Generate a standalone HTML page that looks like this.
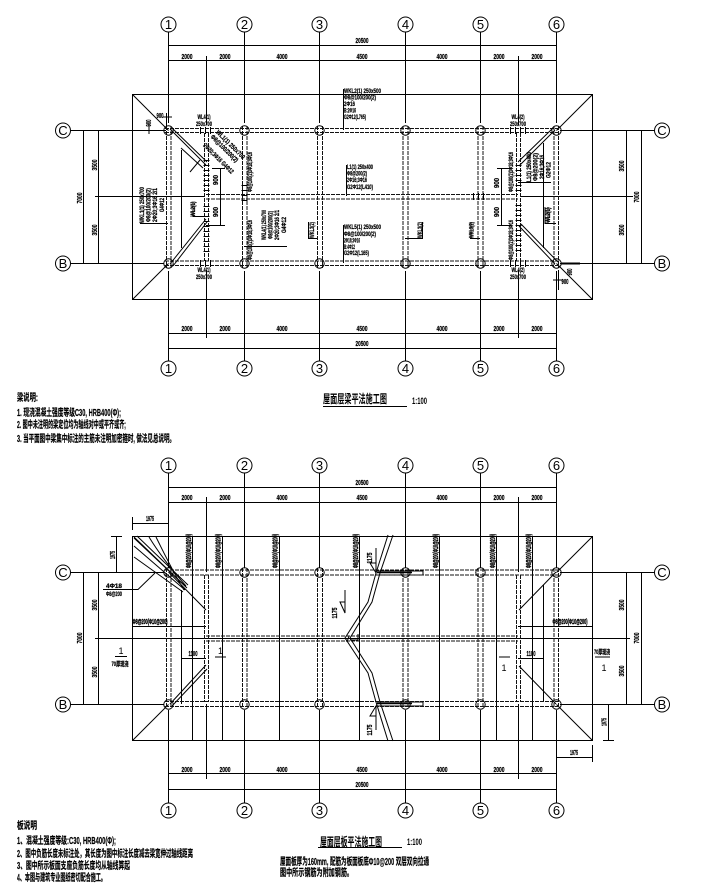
<!DOCTYPE html>
<html lang="zh">
<head>
<meta charset="utf-8">
<title>屋面层梁板平法施工图</title>
<style>
html,body{margin:0;padding:0;background:#fff;width:705px;height:889px;overflow:hidden}
svg{display:block}
.l{stroke:#000;stroke-width:1;fill:none}
.b{stroke:#111;stroke-width:1;fill:none;stroke-dasharray:4 1}
.h{stroke:#000;stroke-width:6;fill:none;stroke-dasharray:1 4}
.c{stroke:#000;stroke-width:1;fill:#fff}
.o{stroke:#000;stroke-width:1;fill:none}
text{font-family:"Liberation Sans","Noto Sans CJK SC",sans-serif;fill:#000}
.g{font-size:13px;text-anchor:middle}
.d{font-size:7px;font-weight:bold;text-anchor:middle;stroke:#000;stroke-width:.25}
.t{font-size:6.5px;font-weight:bold;stroke:#000;stroke-width:.25}
.r{font-size:7.5px;font-weight:bold;stroke:#000;stroke-width:.45;text-anchor:middle}
.n{font-size:10px;font-weight:bold;stroke:#000;stroke-width:.2}
</style>
</head>
<body>
<svg width="705" height="889" viewBox="0 0 705 889" xmlns="http://www.w3.org/2000/svg">

<!-- ================= UPPER PLAN ================= -->
<path class="l" d="M168.5 32V123M244.5 32V123M319.5 32V123M405.5 32V123M480.5 32V123M556.5 32V123
M168.5 271V361M244.5 271V361M319.5 271V361M405.5 271V361M480.5 271V361M556.5 271V361
M206.5 56V125M206.5 270V338M518.5 56V125M518.5 270V338
M168 45.5H557M168 60.5H557M168 333.5H557M168 348.5H557
M132.5 94.5H592.5V299.5H132.5Z
M70 130.5H164M70 263.5H164M95 196.5H205M560 130.5H655M560 263.5H655M520 196.5H633
M83.5 130V264M98.5 130V264M626.5 130V264M641.5 130V264
M132.5 94.5L168.5 130.5M132.5 299.5L168.5 263.5M592.5 94.5L556.5 130.5M592.5 299.5L556.5 263.5
M170 129L206 165M173 129L207 162M170 264L206 219M173 266L207 222M555 130L519 166M552 129L518 162M555 264L519 226M558 262L521 224
M181.5 150V248M543.5 143V248
M220.5 168V225M212 168.5H225M206 225.5H225M501.5 168V225M497 168.5H511M497 225.5H511
M343.5 89V130M346.5 165V196M343.5 225V263
M140 223.5H168M244 246.5H287M193 202V216.5H204M308.5 222V238.5H318M405 238.5H422.5V222M470 238.5H480M471 222V238M518 182.5H551M545 207V223.5H556M548 207V223
M166.5 113V130M150 130.5H166M149 124V134M163 117H172
M561 263.5H578M558.5 270V290M553 280H563"/>
<path d="M561 263.5H580" stroke="#000" stroke-width="2"/>
<path class="l" d="M203 168L181 148M200 160L190 172"/>
<!-- beams upper -->
<path class="b" d="M165 128.5H560M165 132.5H560M165 261H560M165 265.5H560M206 194.5H518M206 199H518
M166.5 126V268M171 126V268M204.5 133V261M208.5 133V261M242.5 126V268M247 126V268M317.5 126V268M322.5 126V268M403 126V268M408 126V268M478 126V268M483 126V268M516.5 133V261M520.5 133V261M554 126V268M558.5 126V268"/>
<path class="h" d="M206.5 160V192M206.5 206V252M518.5 165V192M518.5 205V252M244.5 185V202"/>
<path class="h" style="stroke-width:7" d="M200 130.5H214M200 263.5H214M510 130.5H526M510 263.5H526M473 196.5H488"/>
<!-- columns -->
<g class="o">
<circle cx="168.5" cy="130.5" r="4.7"/><circle cx="244.5" cy="130.5" r="4.7"/><circle cx="319.5" cy="130.5" r="4.7"/><circle cx="405.5" cy="130.5" r="4.7"/><circle cx="480.5" cy="130.5" r="4.7"/><circle cx="556.5" cy="130.5" r="4.7"/>
<circle cx="168.5" cy="263.5" r="4.7"/><circle cx="244.5" cy="263.5" r="4.7"/><circle cx="319.5" cy="263.5" r="4.7"/><circle cx="405.5" cy="263.5" r="4.7"/><circle cx="480.5" cy="263.5" r="4.7"/><circle cx="556.5" cy="263.5" r="4.7"/>
</g>
<!-- bubbles -->
<g class="c">
<circle cx="168.5" cy="24.5" r="7.5"/><circle cx="244.5" cy="24.5" r="7.5"/><circle cx="319.5" cy="24.5" r="7.5"/><circle cx="405.5" cy="24.5" r="7.5"/><circle cx="480.5" cy="24.5" r="7.5"/><circle cx="556.5" cy="24.5" r="7.5"/>
<circle cx="168.5" cy="368.5" r="7.5"/><circle cx="244.5" cy="368.5" r="7.5"/><circle cx="319.5" cy="368.5" r="7.5"/><circle cx="405.5" cy="368.5" r="7.5"/><circle cx="480.5" cy="368.5" r="7.5"/><circle cx="556.5" cy="368.5" r="7.5"/>
<circle cx="63" cy="130.5" r="7.5"/><circle cx="63" cy="263.5" r="7.5"/><circle cx="662" cy="130.5" r="7.5"/><circle cx="662" cy="263.5" r="7.5"/>
</g>
<g class="g">
<text x="168.5" y="29">1</text><text x="244.5" y="29">2</text><text x="319.5" y="29">3</text><text x="405.5" y="29">4</text><text x="480.5" y="29">5</text><text x="556.5" y="29">6</text>
<text x="168.5" y="373">1</text><text x="244.5" y="373">2</text><text x="319.5" y="373">3</text><text x="405.5" y="373">4</text><text x="480.5" y="373">5</text><text x="556.5" y="373">6</text>
<text x="63" y="135">C</text><text x="63" y="268">B</text><text x="662" y="135">C</text><text x="662" y="268">B</text>
</g>
<!-- dims upper -->
<g class="d">
<text x="362" y="43" textLength="13" lengthAdjust="spacingAndGlyphs">20500</text>
<text x="187" y="59" textLength="11" lengthAdjust="spacingAndGlyphs">2000</text><text x="225" y="59" textLength="11" lengthAdjust="spacingAndGlyphs">2000</text><text x="282" y="59" textLength="11" lengthAdjust="spacingAndGlyphs">4000</text><text x="362" y="59" textLength="11" lengthAdjust="spacingAndGlyphs">4500</text><text x="442" y="59" textLength="11" lengthAdjust="spacingAndGlyphs">4000</text><text x="499" y="59" textLength="11" lengthAdjust="spacingAndGlyphs">2000</text><text x="537" y="59" textLength="11" lengthAdjust="spacingAndGlyphs">2000</text>
<text x="187" y="331" textLength="11" lengthAdjust="spacingAndGlyphs">2000</text><text x="225" y="331" textLength="11" lengthAdjust="spacingAndGlyphs">2000</text><text x="282" y="331" textLength="11" lengthAdjust="spacingAndGlyphs">4000</text><text x="362" y="331" textLength="11" lengthAdjust="spacingAndGlyphs">4500</text><text x="442" y="331" textLength="11" lengthAdjust="spacingAndGlyphs">4000</text><text x="499" y="331" textLength="11" lengthAdjust="spacingAndGlyphs">2000</text><text x="537" y="331" textLength="11" lengthAdjust="spacingAndGlyphs">2000</text>
<text x="362" y="346" textLength="13" lengthAdjust="spacingAndGlyphs">20500</text>
<text transform="translate(97,165) rotate(-90)" textLength="11" lengthAdjust="spacingAndGlyphs">3500</text>
<text transform="translate(97,230) rotate(-90)" textLength="11" lengthAdjust="spacingAndGlyphs">3500</text>
<text transform="translate(82,198) rotate(-90)" textLength="11" lengthAdjust="spacingAndGlyphs">7000</text>
<text transform="translate(624,166) rotate(-90)" textLength="11" lengthAdjust="spacingAndGlyphs">3500</text>
<text transform="translate(624,230) rotate(-90)" textLength="11" lengthAdjust="spacingAndGlyphs">3500</text>
<text transform="translate(639,197) rotate(-90)" textLength="11" lengthAdjust="spacingAndGlyphs">7000</text>
<text transform="translate(218,180) rotate(-90)" textLength="10" lengthAdjust="spacingAndGlyphs">900</text>
<text transform="translate(218,212) rotate(-90)" textLength="10" lengthAdjust="spacingAndGlyphs">900</text>
<text transform="translate(499,183) rotate(-90)" textLength="10" lengthAdjust="spacingAndGlyphs">900</text>
<text transform="translate(499,212) rotate(-90)" textLength="10" lengthAdjust="spacingAndGlyphs">900</text>
<text x="160" y="118" textLength="7" lengthAdjust="spacingAndGlyphs">900</text>
<text transform="translate(151,123) rotate(-90)" textLength="7" lengthAdjust="spacingAndGlyphs">900</text>
<text transform="translate(572,272) rotate(-90)" textLength="7" lengthAdjust="spacingAndGlyphs">900</text>
<text x="565" y="284" textLength="7" lengthAdjust="spacingAndGlyphs">900</text>
</g>
<!-- beam labels upper -->
<g class="t">
<text x="344" y="93" textLength="37" lengthAdjust="spacingAndGlyphs">WKL2(1) 250x500</text>
<text x="344" y="99.5" textLength="32" lengthAdjust="spacingAndGlyphs">Φ8@100/200(2)</text>
<text x="344" y="106" textLength="11" lengthAdjust="spacingAndGlyphs">2Φ16</text>
<text x="344" y="112.5" textLength="12" lengthAdjust="spacingAndGlyphs">B:2Φ16</text>
<text x="344" y="119" textLength="22" lengthAdjust="spacingAndGlyphs">G2Φ12(L765)</text>
<text x="347" y="169" textLength="26" lengthAdjust="spacingAndGlyphs">L1(1) 250x400</text>
<text x="347" y="175.5" textLength="20" lengthAdjust="spacingAndGlyphs">Φ8@200(2)</text>
<text x="347" y="182" textLength="20" lengthAdjust="spacingAndGlyphs">2Φ16;3Φ16</text>
<text x="347" y="189" textLength="26" lengthAdjust="spacingAndGlyphs">G2Φ12(L410)</text>
<text x="344" y="229" textLength="37" lengthAdjust="spacingAndGlyphs">WKL5(1) 250x500</text>
<text x="344" y="236" textLength="32" lengthAdjust="spacingAndGlyphs">Φ8@100/200(2)</text>
<text x="344" y="242.5" textLength="16" lengthAdjust="spacingAndGlyphs">2Φ16;3Φ16</text>
<text x="344" y="249" textLength="11" lengthAdjust="spacingAndGlyphs">B:4Φ12</text>
<text x="344" y="255" textLength="25" lengthAdjust="spacingAndGlyphs">G2Φ12(L165)</text>
<g text-anchor="middle">
<text x="204" y="119" textLength="13" lengthAdjust="spacingAndGlyphs">WL4(1)</text><text x="204" y="126" textLength="16" lengthAdjust="spacingAndGlyphs">250x700</text>
<text x="204" y="272" textLength="13" lengthAdjust="spacingAndGlyphs">WL4(1)</text><text x="204" y="279" textLength="16" lengthAdjust="spacingAndGlyphs">250x700</text>
<text x="518" y="119" textLength="13" lengthAdjust="spacingAndGlyphs">WL4(2)</text><text x="518" y="126" textLength="16" lengthAdjust="spacingAndGlyphs">250x700</text>
<text x="518" y="272" textLength="13" lengthAdjust="spacingAndGlyphs">WL4(2)</text><text x="518" y="279" textLength="16" lengthAdjust="spacingAndGlyphs">250x700</text>
<text transform="translate(144,205) rotate(-90)" textLength="36" lengthAdjust="spacingAndGlyphs">WKL1(1) 250x700</text>
<text transform="translate(150.5,205) rotate(-90)" textLength="34" lengthAdjust="spacingAndGlyphs">Φ8@100/200(2)</text>
<text transform="translate(157,205) rotate(-90)" textLength="34" lengthAdjust="spacingAndGlyphs">2Φ20;3Φ16 2/1</text>
<text transform="translate(164,205) rotate(-90)" textLength="14" lengthAdjust="spacingAndGlyphs">G4Φ12</text>
<text transform="translate(266,225) rotate(-90)" textLength="30" lengthAdjust="spacingAndGlyphs">WKL4(1) 250x700</text>
<text transform="translate(272.5,225) rotate(-90)" textLength="28" lengthAdjust="spacingAndGlyphs">Φ8@100/200(2)</text>
<text transform="translate(279,225) rotate(-90)" textLength="30" lengthAdjust="spacingAndGlyphs">2Φ20;3Φ16 2/1</text>
<text transform="translate(286,225) rotate(-90)" textLength="16" lengthAdjust="spacingAndGlyphs">G4Φ12</text>
<text transform="translate(252,172) rotate(-90)" textLength="40" lengthAdjust="spacingAndGlyphs">Φ8@100(2)3Φ18;3Φ16</text>
<text transform="translate(252,240) rotate(-90)" textLength="40" lengthAdjust="spacingAndGlyphs">Φ8@100(2)3Φ18;3Φ16</text>
<text transform="translate(513,172) rotate(-90)" textLength="40" lengthAdjust="spacingAndGlyphs">Φ8@100(2)3Φ18;3Φ16</text>
<text transform="translate(513,240) rotate(-90)" textLength="40" lengthAdjust="spacingAndGlyphs">Φ8@100(2)3Φ18;3Φ16</text>
<text transform="translate(195,209) rotate(-90)" textLength="15" lengthAdjust="spacingAndGlyphs">WL2(1)</text>
<text transform="translate(314,230) rotate(-90)" textLength="16" lengthAdjust="spacingAndGlyphs">WKL3(2)</text>
<text transform="translate(422,230) rotate(-90)" textLength="16" lengthAdjust="spacingAndGlyphs">WKL3(2)</text>
<text transform="translate(473.5,230) rotate(-90)" textLength="16" lengthAdjust="spacingAndGlyphs">WKL3(2)</text>
<text transform="translate(550,215) rotate(-90)" textLength="15" lengthAdjust="spacingAndGlyphs">WL2(1)</text>
<text transform="translate(531,167) rotate(-90)" textLength="30" lengthAdjust="spacingAndGlyphs">L1(1) 250x400</text>
<text transform="translate(537.5,167) rotate(-90)" textLength="28" lengthAdjust="spacingAndGlyphs">Φ8@200(2)</text>
<text transform="translate(544,167) rotate(-90)" textLength="24" lengthAdjust="spacingAndGlyphs">2Φ16;3Φ16</text>
<text transform="translate(550.5,170) rotate(-90)" textLength="16" lengthAdjust="spacingAndGlyphs">G2Φ12</text>
<text transform="translate(229,146) rotate(45)" textLength="38" lengthAdjust="spacingAndGlyphs">WL1(1) 250x700</text>
<text transform="translate(223,150) rotate(45)" textLength="36" lengthAdjust="spacingAndGlyphs">Φ8@100/200(2)</text>
<text transform="translate(217,160) rotate(45)" textLength="40" lengthAdjust="spacingAndGlyphs">2Φ20;3Φ16 G4Φ12</text>
</g>
</g>

<!-- Notes upper -->
<text class="n" x="17" y="401" textLength="21" lengthAdjust="spacingAndGlyphs">梁说明:</text>
<text class="n" x="17" y="416" textLength="104" lengthAdjust="spacingAndGlyphs">1. 现浇混凝土强度等级C30, HRB400(Φ);</text>
<text class="n" x="17" y="428" textLength="109" lengthAdjust="spacingAndGlyphs">2. 图中未注明的梁定位均为轴线对中或平齐或齐;</text>
<text class="n" x="17" y="442" textLength="158" lengthAdjust="spacingAndGlyphs">3. 当平面图中梁集中标注的主筋未注明加密箍时, 做法见总说明。</text>
<text x="323" y="403" font-size="12" font-weight="bold" textLength="64" lengthAdjust="spacingAndGlyphs">屋面层梁平法施工图</text>
<text x="412" y="404" font-size="9" font-weight="bold" textLength="15" lengthAdjust="spacingAndGlyphs">1:100</text>
<path class="l" d="M323 406.5H407"/>

<!-- ================= LOWER PLAN ================= -->
<path class="l" d="M168.5 473V568M244.5 473V568M319.5 473V568M405.5 473V568M480.5 473V568M556.5 473V568
M168.5 710V803M244.5 710V803M319.5 710V803M405.5 710V803M480.5 710V803M556.5 710V803
M206.5 497V572M206.5 704V779M518.5 497V572M518.5 704V779
M168 487.5H557M168 502.5H557M168 773.5H557M168 789.5H557
M132.5 536.5H592.5V740.5H132.5Z
M70 572.5H164M70 704.5H164M95 638.5H630
M560 572.5H655M560 704.5H655
M83.5 572V705M98.5 572V705M626.5 572V705M641.5 572V705
M192.5 537V740M222.5 537V740M279.5 537V740M359.5 537V740M439.5 537V740M496.5 537V740M532.5 537V740
M132.5 626.5H206M518 626.5H592.5
M181.5 590V704M543.5 585V702M181.5 658.5H206M518 658.5H543.5
M132.5 740.5L168.5 704.5M592.5 536.5L556.5 572.5M592.5 740.5L556.5 704.5
M168.5 572L206 610M170 704L206 665M172 706L207 669M556 704L519 666M556 572L519 610
M132.5 517V530M133 523.5H168.5M111 536.5H122M116.5 537V572
M592.5 745V762M556 757.5H592.5M608.5 704V740M603 740.5H614
M115 656.5H127M215 657H226M499 657H510M595 657H610
M103 589.5H138L155 573
M134 538L186 587M137 536L188 585M134 546L185 590M134 557L183 592
M149 537C160 555 172 570 186 586M156 537C165 555 172 570 184 590"/>
<path class="l" stroke-width="1.4" d="M134 537L187 588"/>
<!-- center bars -->
<path class="l" d="M388 535L376 573L368 602L345 638L368 673L376 702L388 741"/>
<path class="l" d="M393 535L380 573L372 602L350 638L372 673L380 702L393 741"/>
<path class="l" d="M377 571H423V575H377M377 702H423V706H377M349 636L347 642M350 640H358V634
M376 563V573L370 563ZM376 716V706L370 716ZM345 602V613L340 602Z"/>
<path class="l" d="M376 548V573M376 706V730M345 590V612"/>
<path d="M377 572.5H412M377 703.5H412" stroke="#000" stroke-width="1.4"/>
<!-- beams lower -->
<path class="b" d="M165 570H560M165 575H560M165 701.5H560M165 706.5H560M206 636H518M206 641H518
M166.5 568V708M171 568V708M204.5 575V702M208.5 575V702M242.5 568V708M247 568V708M317.5 568V708M322.5 568V708M403 568V708M408 568V708M478 568V708M483 568V708M516.5 575V702M520.5 575V702M554 568V708M558.5 568V708"/>
<g class="o">
<circle cx="168.5" cy="572.5" r="4.7"/><circle cx="244.5" cy="572.5" r="4.7"/><circle cx="319.5" cy="572.5" r="4.7"/><circle cx="405.5" cy="572.5" r="4.7"/><circle cx="480.5" cy="572.5" r="4.7"/><circle cx="556.5" cy="572.5" r="4.7"/>
<circle cx="168.5" cy="704.5" r="4.7"/><circle cx="244.5" cy="704.5" r="4.7"/><circle cx="319.5" cy="704.5" r="4.7"/><circle cx="405.5" cy="704.5" r="4.7"/><circle cx="480.5" cy="704.5" r="4.7"/><circle cx="556.5" cy="704.5" r="4.7"/>
</g>
<g class="c">
<circle cx="168.5" cy="465.5" r="7.5"/><circle cx="244.5" cy="465.5" r="7.5"/><circle cx="319.5" cy="465.5" r="7.5"/><circle cx="405.5" cy="465.5" r="7.5"/><circle cx="480.5" cy="465.5" r="7.5"/><circle cx="556.5" cy="465.5" r="7.5"/>
<circle cx="168.5" cy="810.5" r="7.5"/><circle cx="244.5" cy="810.5" r="7.5"/><circle cx="319.5" cy="810.5" r="7.5"/><circle cx="405.5" cy="810.5" r="7.5"/><circle cx="480.5" cy="810.5" r="7.5"/><circle cx="556.5" cy="810.5" r="7.5"/>
<circle cx="63" cy="572.5" r="7.5"/><circle cx="63" cy="704.5" r="7.5"/><circle cx="662" cy="572.5" r="7.5"/><circle cx="662" cy="704.5" r="7.5"/>
</g>
<g class="g">
<text x="168.5" y="470">1</text><text x="244.5" y="470">2</text><text x="319.5" y="470">3</text><text x="405.5" y="470">4</text><text x="480.5" y="470">5</text><text x="556.5" y="470">6</text>
<text x="168.5" y="815">1</text><text x="244.5" y="815">2</text><text x="319.5" y="815">3</text><text x="405.5" y="815">4</text><text x="480.5" y="815">5</text><text x="556.5" y="815">6</text>
<text x="63" y="577">C</text><text x="63" y="709">B</text><text x="662" y="577">C</text><text x="662" y="709">B</text>
</g>
<g class="d">
<text x="362" y="485" textLength="13" lengthAdjust="spacingAndGlyphs">20500</text>
<text x="187" y="500" textLength="11" lengthAdjust="spacingAndGlyphs">2000</text><text x="225" y="500" textLength="11" lengthAdjust="spacingAndGlyphs">2000</text><text x="282" y="500" textLength="11" lengthAdjust="spacingAndGlyphs">4000</text><text x="362" y="500" textLength="11" lengthAdjust="spacingAndGlyphs">4500</text><text x="442" y="500" textLength="11" lengthAdjust="spacingAndGlyphs">4000</text><text x="499" y="500" textLength="11" lengthAdjust="spacingAndGlyphs">2000</text><text x="537" y="500" textLength="11" lengthAdjust="spacingAndGlyphs">2000</text>
<text x="187" y="772" textLength="11" lengthAdjust="spacingAndGlyphs">2000</text><text x="225" y="772" textLength="11" lengthAdjust="spacingAndGlyphs">2000</text><text x="282" y="772" textLength="11" lengthAdjust="spacingAndGlyphs">4000</text><text x="362" y="772" textLength="11" lengthAdjust="spacingAndGlyphs">4500</text><text x="442" y="772" textLength="11" lengthAdjust="spacingAndGlyphs">4000</text><text x="499" y="772" textLength="11" lengthAdjust="spacingAndGlyphs">2000</text><text x="537" y="772" textLength="11" lengthAdjust="spacingAndGlyphs">2000</text>
<text x="362" y="787" textLength="13" lengthAdjust="spacingAndGlyphs">20500</text>
<text transform="translate(97,605) rotate(-90)" textLength="11" lengthAdjust="spacingAndGlyphs">3500</text>
<text transform="translate(97,672) rotate(-90)" textLength="11" lengthAdjust="spacingAndGlyphs">3500</text>
<text transform="translate(82,638) rotate(-90)" textLength="11" lengthAdjust="spacingAndGlyphs">7000</text>
<text transform="translate(624,605) rotate(-90)" textLength="11" lengthAdjust="spacingAndGlyphs">3500</text>
<text transform="translate(624,671) rotate(-90)" textLength="11" lengthAdjust="spacingAndGlyphs">3500</text>
<text transform="translate(639,638) rotate(-90)" textLength="11" lengthAdjust="spacingAndGlyphs">7000</text>
<text x="150" y="521" textLength="8" lengthAdjust="spacingAndGlyphs">1975</text>
<text transform="translate(115,555) rotate(-90)" textLength="8" lengthAdjust="spacingAndGlyphs">1975</text>
<text transform="translate(606.5,722) rotate(-90)" textLength="8" lengthAdjust="spacingAndGlyphs">1975</text>
<text x="574" y="755" textLength="8" lengthAdjust="spacingAndGlyphs">1975</text>
<text x="193" y="656" textLength="9" lengthAdjust="spacingAndGlyphs">1100</text>
<text x="531" y="656" textLength="9" lengthAdjust="spacingAndGlyphs">1100</text>
<text transform="translate(372,558) rotate(-90)" textLength="11" lengthAdjust="spacingAndGlyphs">1175</text>
<text transform="translate(372,730) rotate(-90)" textLength="11" lengthAdjust="spacingAndGlyphs">1175</text>
<text transform="translate(337,613) rotate(-90)" textLength="11" lengthAdjust="spacingAndGlyphs">1175</text>
</g>
<g class="r">
<text transform="translate(191,551) rotate(-90)" textLength="34" lengthAdjust="spacingAndGlyphs">Φ8@200(Φ10@200)</text>
<text transform="translate(220.5,551) rotate(-90)" textLength="34" lengthAdjust="spacingAndGlyphs">Φ8@200(Φ10@200)</text>
<text transform="translate(277.5,551) rotate(-90)" textLength="34" lengthAdjust="spacingAndGlyphs">Φ8@200(Φ10@200)</text>
<text transform="translate(358,551) rotate(-90)" textLength="34" lengthAdjust="spacingAndGlyphs">Φ8@200(Φ10@200)</text>
<text transform="translate(438,551) rotate(-90)" textLength="34" lengthAdjust="spacingAndGlyphs">Φ8@200(Φ10@200)</text>
<text transform="translate(495,551) rotate(-90)" textLength="34" lengthAdjust="spacingAndGlyphs">Φ8@200(Φ10@200)</text>
<text transform="translate(531,551) rotate(-90)" textLength="34" lengthAdjust="spacingAndGlyphs">Φ8@200(Φ10@200)</text>
<text x="150" y="624" textLength="35" lengthAdjust="spacingAndGlyphs">Φ8@200(Φ10@200)</text>
<text x="570" y="624" textLength="35" lengthAdjust="spacingAndGlyphs">Φ8@200(Φ10@200)</text>
</g>
<g class="t" text-anchor="middle">
<text x="114" y="588" textLength="16" lengthAdjust="spacingAndGlyphs">4Φ18</text>
<text x="114" y="596" textLength="16" lengthAdjust="spacingAndGlyphs">Φ8@200</text>
<text x="120" y="666" textLength="17" lengthAdjust="spacingAndGlyphs">70厚现浇</text>
<text x="602" y="654" textLength="16" lengthAdjust="spacingAndGlyphs">70厚现浇</text>
</g>
<g font-size="9" text-anchor="middle">
<text x="121" y="654">1</text><text x="220.5" y="654">1</text><text x="504" y="671">1</text><text x="604" y="671">1</text>
</g>

<!-- Notes lower -->
<text class="n" x="17" y="829" textLength="20" lengthAdjust="spacingAndGlyphs">板说明</text>
<text class="n" x="17" y="844" textLength="99" lengthAdjust="spacingAndGlyphs">1、混凝土强度等级:C30, HRB400(Φ);</text>
<text class="n" x="17" y="857" textLength="176" lengthAdjust="spacingAndGlyphs">2、图中负筋长度未标注处，其长度为图中标注长度减去梁宽伸过轴线距离</text>
<text class="n" x="17" y="869" textLength="113" lengthAdjust="spacingAndGlyphs">3、图中所示板面支座负筋长度均从轴线算起</text>
<text class="n" x="17" y="881" textLength="89" lengthAdjust="spacingAndGlyphs">4、本图与建筑专业图纸密切配合施工。</text>
<text x="320" y="846" font-size="12" font-weight="bold" textLength="62" lengthAdjust="spacingAndGlyphs">屋面层板平法施工图</text>
<text x="407" y="845" font-size="9" font-weight="bold" textLength="15" lengthAdjust="spacingAndGlyphs">1:100</text>
<path class="l" d="M318 847.5H402"/>
<text class="n" x="280" y="865" textLength="149" lengthAdjust="spacingAndGlyphs">屋面板厚为160mm, 配筋为板面板底Φ10@200 双层双向拉通</text>
<text class="n" x="280" y="876" textLength="73" lengthAdjust="spacingAndGlyphs">图中所示钢筋为附加钢筋。</text>
</svg>
</body>
</html>
